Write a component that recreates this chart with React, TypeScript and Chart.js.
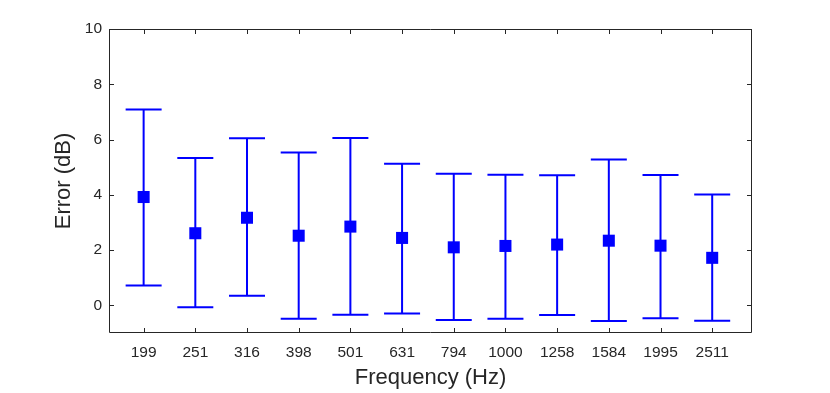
import React, { useEffect, useRef } from "react";
import { Chart, registerables } from "chart.js";

Chart.register(...registerables);

const categories = ["199", "251", "316", "398", "501", "631", "794", "1000", "1258", "1584", "1995", "2511"];
const means = [3.92, 2.61, 3.17, 2.52, 2.85, 2.44, 2.1, 2.15, 2.2, 2.34, 2.16, 1.72];
const upper = [7.09, 5.33, 6.05, 5.53, 6.06, 5.12, 4.76, 4.73, 4.71, 5.28, 4.72, 4.01];
const lower = [0.72, -0.07, 0.35, -0.48, -0.34, -0.29, -0.53, -0.48, -0.35, -0.57, -0.47, -0.56];
const yTicks = [0, 2, 4, 6, 8, 10];

const AXIS = "#262626";
const BLUE = "#0000ff";
const FONT = "'Liberation Sans', Arial, Helvetica, sans-serif";

const framePlugin = {
  id: "frame",
  beforeDatasetsDraw(chart: any) {
    const ctx = chart.ctx;
    const xs = chart.scales.x;
    const ys = chart.scales.y;
    ctx.save();
    ctx.strokeStyle = BLUE;
    ctx.lineWidth = 2;
    for (let i = 0; i < means.length; i++) {
      const x = xs.getPixelForValue(i + 1);
      const yu = ys.getPixelForValue(upper[i]);
      const yl = ys.getPixelForValue(lower[i]);
      ctx.beginPath();
      ctx.moveTo(x, yu);
      ctx.lineTo(x, yl);
      ctx.moveTo(x - 18, yu);
      ctx.lineTo(x + 18, yu);
      ctx.moveTo(x - 18, yl);
      ctx.lineTo(x + 18, yl);
      ctx.stroke();
    }
    ctx.restore();
  },
  afterDraw(chart: any) {
    const ctx = chart.ctx;
    const { left, right, top, bottom } = chart.chartArea;
    const xs = chart.scales.x;
    const ys = chart.scales.y;
    const t = 5;
    ctx.save();
    ctx.strokeStyle = AXIS;
    ctx.lineWidth = 1;
    ctx.beginPath();
    ctx.rect(left + 0.5, top + 0.5, right - left - 1, bottom - top - 1);
    for (let i = 0; i < categories.length; i++) {
      const x = Math.round(xs.getPixelForValue(i + 1)) + 0.5;
      ctx.moveTo(x, bottom);
      ctx.lineTo(x, bottom - t);
      ctx.moveTo(x, top);
      ctx.lineTo(x, top + t);
    }
    for (const v of yTicks) {
      const y = Math.round(ys.getPixelForValue(v)) + 0.5;
      ctx.moveTo(left, y);
      ctx.lineTo(left + t, y);
      ctx.moveTo(right, y);
      ctx.lineTo(right - t, y);
    }
    ctx.stroke();
    ctx.restore();
  },
};

export default function App() {
  const ref = useRef<HTMLCanvasElement | null>(null);

  useEffect(() => {
    if (!ref.current) return;
    const chart = new Chart(ref.current, {
      type: "scatter",
      data: {
        datasets: [
          {
            data: means.map((m, i) => ({ x: i + 1, y: m })),
            pointStyle: "rect",
            pointRadius: 8.5,
            pointHoverRadius: 8.5,
            backgroundColor: BLUE,
            borderColor: BLUE,
            borderWidth: 0,
            showLine: false,
          },
        ],
      },
      options: {
        responsive: false,
        animation: false,
        events: [],
        layout: { padding: { top: 29, right: 78, left: 0, bottom: 0 } },
        plugins: { legend: { display: false }, tooltip: { enabled: false } },
        scales: {
          x: {
            type: "linear",
            min: 0.33,
            max: 12.77,
            grid: { display: false, drawTicks: false },
            border: { display: false },
            afterBuildTicks: (s: any) => {
              s.ticks = categories.map((_, i) => ({ value: i + 1 }));
            },
            afterFit: (s: any) => {
              s.height = 60;
            },
            ticks: {
              autoSkip: false,
              maxRotation: 0,
              padding: 10,
              color: AXIS,
              font: { family: FONT, size: 15.5 },
              callback: (v: any) => categories[Math.round(v) - 1] ?? "",
            },
            title: {
              display: true,
              text: "Frequency (Hz)",
              color: AXIS,
              font: { family: FONT, size: 22, lineHeight: 1.2 },
              padding: { top: 0, bottom: 2 },
            },
          },
          y: {
            type: "linear",
            min: -1,
            max: 10,
            grid: { display: false, drawTicks: false },
            border: { display: false },
            afterBuildTicks: (s: any) => {
              s.ticks = yTicks.map((v) => ({ value: v }));
            },
            afterFit: (s: any) => {
              s.width = 109;
            },
            ticks: {
              padding: 7,
              color: AXIS,
              font: { family: FONT, size: 15.5 },
            },
            title: {
              display: true,
              text: "Error (dB)",
              color: AXIS,
              font: { family: FONT, size: 22, lineHeight: 1.2 },
              padding: { top: 51, bottom: 0 },
            },
          },
        },
      },
      plugins: [framePlugin],
    });
    return () => chart.destroy();
  }, []);

  return (
    <div style={{ position: "absolute", left: 0, top: 0, width: 830, height: 393, background: "#fff" }}>
      <canvas ref={ref} width={830} height={393} style={{ display: "block" }} />
    </div>
  );
}
